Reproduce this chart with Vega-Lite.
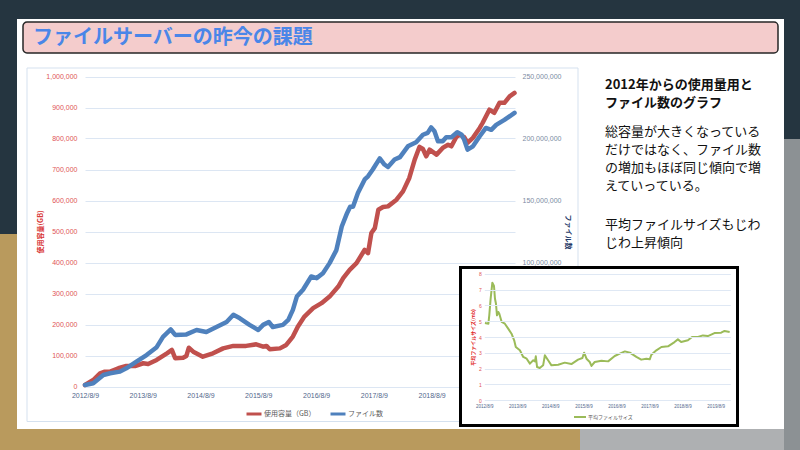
{
  "$schema": "https://vega.github.io/schema/vega-lite/v6.json",
  "width": 767,
  "height": 411,
  "autosize": {"type": "none"},
  "padding": {"left": 17, "top": 19, "right": 16, "bottom": 20},
  "background": "#253540",
  "config": {"view": {"fill": "#ffffff", "stroke": null}, "font": "Noto Sans CJK JP"},
  "datasets": {
    "usage": [
      {"date": "2012-08-09", "gb": 4800}, {"date": "2012-09-30", "gb": 21000}, {"date": "2012-11-12", "gb": 42600},
      {"date": "2012-12-12", "gb": 47800}, {"date": "2013-01-15", "gb": 47800}, {"date": "2013-03-08", "gb": 58800},
      {"date": "2013-04-27", "gb": 66000}, {"date": "2013-06-21", "gb": 66000}, {"date": "2013-08-12", "gb": 75000},
      {"date": "2013-09-12", "gb": 72700}, {"date": "2013-11-05", "gb": 85600}, {"date": "2014-01-09", "gb": 107000},
      {"date": "2014-02-09", "gb": 118000}, {"date": "2014-03-02", "gb": 91000}, {"date": "2014-04-21", "gb": 93000},
      {"date": "2014-05-12", "gb": 98500}, {"date": "2014-05-27", "gb": 125000}, {"date": "2014-06-24", "gb": 112400},
      {"date": "2014-08-24", "gb": 96000}, {"date": "2014-10-27", "gb": 107000}, {"date": "2014-12-30", "gb": 123000},
      {"date": "2015-03-05", "gb": 131000}, {"date": "2015-05-24", "gb": 131000}, {"date": "2015-07-27", "gb": 136000},
      {"date": "2015-09-09", "gb": 128600}, {"date": "2015-09-30", "gb": 131000}, {"date": "2015-10-21", "gb": 120000},
      {"date": "2015-12-24", "gb": 123000}, {"date": "2016-02-02", "gb": 134000}, {"date": "2016-03-15", "gb": 161000},
      {"date": "2016-04-15", "gb": 193000}, {"date": "2016-05-27", "gb": 225500}, {"date": "2016-07-21", "gb": 252600},
      {"date": "2016-09-12", "gb": 268800}, {"date": "2016-11-02", "gb": 290000}, {"date": "2016-12-27", "gb": 322500},
      {"date": "2017-01-27", "gb": 349600}, {"date": "2017-03-09", "gb": 376400}, {"date": "2017-04-21", "gb": 398000},
      {"date": "2017-06-12", "gb": 441000}, {"date": "2017-07-03", "gb": 430000}, {"date": "2017-07-24", "gb": 495000},
      {"date": "2017-08-15", "gb": 511000}, {"date": "2017-09-06", "gb": 570000}, {"date": "2017-10-06", "gb": 579000},
      {"date": "2017-11-06", "gb": 581000}, {"date": "2017-12-30", "gb": 602600}, {"date": "2018-02-09", "gb": 629400},
      {"date": "2018-03-21", "gb": 672700}, {"date": "2018-04-24", "gb": 731800}, {"date": "2018-05-24", "gb": 772800},
      {"date": "2018-06-15", "gb": 766000}, {"date": "2018-07-06", "gb": 742500}, {"date": "2018-07-27", "gb": 764000},
      {"date": "2018-09-09", "gb": 748000}, {"date": "2018-10-18", "gb": 769600}, {"date": "2018-11-21", "gb": 780000},
      {"date": "2018-12-12", "gb": 774800}, {"date": "2019-01-12", "gb": 805000}, {"date": "2019-02-03", "gb": 812600},
      {"date": "2019-03-03", "gb": 804000}, {"date": "2019-03-24", "gb": 785800}, {"date": "2019-04-27", "gb": 802000},
      {"date": "2019-06-09", "gb": 834000}, {"date": "2019-06-27", "gb": 850000}, {"date": "2019-08-09", "gb": 893000},
      {"date": "2019-09-09", "gb": 883000}, {"date": "2019-10-12", "gb": 915000}, {"date": "2019-11-12", "gb": 915000},
      {"date": "2019-12-15", "gb": 936000}, {"date": "2020-01-15", "gb": 947000}
    ],
    "files": [
      {"date": "2012-08-09", "n": 1200000}, {"date": "2012-09-30", "n": 2600000}, {"date": "2012-12-03", "n": 9300000},
      {"date": "2013-01-15", "n": 10700000}, {"date": "2013-03-18", "n": 12000000}, {"date": "2013-04-27", "n": 14700000},
      {"date": "2013-06-30", "n": 20000000}, {"date": "2013-09-02", "n": 25400000}, {"date": "2013-11-05", "n": 31700000},
      {"date": "2013-12-15", "n": 40000000}, {"date": "2014-02-02", "n": 46000000}, {"date": "2014-03-02", "n": 41600000},
      {"date": "2014-05-12", "n": 42000000}, {"date": "2014-07-15", "n": 45600000}, {"date": "2014-09-15", "n": 44000000},
      {"date": "2014-11-18", "n": 48000000}, {"date": "2015-01-21", "n": 52000000}, {"date": "2015-03-05", "n": 57800000},
      {"date": "2015-04-15", "n": 55000000}, {"date": "2015-06-15", "n": 49700000}, {"date": "2015-08-09", "n": 45600000},
      {"date": "2015-09-09", "n": 49700000}, {"date": "2015-10-15", "n": 52000000}, {"date": "2015-11-09", "n": 48000000},
      {"date": "2016-01-12", "n": 49700000}, {"date": "2016-02-15", "n": 53700000}, {"date": "2016-03-15", "n": 61800000},
      {"date": "2016-04-09", "n": 72500000}, {"date": "2016-05-18", "n": 78000000}, {"date": "2016-07-09", "n": 88700000},
      {"date": "2016-08-12", "n": 87400000}, {"date": "2016-09-21", "n": 91400000}, {"date": "2016-11-02", "n": 99500000},
      {"date": "2016-12-15", "n": 110000000}, {"date": "2017-01-18", "n": 129000000}, {"date": "2017-02-21", "n": 140000000},
      {"date": "2017-03-12", "n": 145000000}, {"date": "2017-03-30", "n": 145000000}, {"date": "2017-04-30", "n": 156000000},
      {"date": "2017-06-12", "n": 167000000}, {"date": "2017-07-03", "n": 169500000}, {"date": "2017-08-02", "n": 175000000},
      {"date": "2017-09-15", "n": 184000000}, {"date": "2017-10-15", "n": 179000000}, {"date": "2017-11-06", "n": 177000000},
      {"date": "2017-12-18", "n": 183000000}, {"date": "2018-01-21", "n": 185000000}, {"date": "2018-03-12", "n": 193700000},
      {"date": "2018-05-03", "n": 197000000}, {"date": "2018-06-15", "n": 203000000}, {"date": "2018-07-15", "n": 204500000},
      {"date": "2018-08-06", "n": 209000000}, {"date": "2018-08-27", "n": 205800000}, {"date": "2018-09-18", "n": 197800000},
      {"date": "2018-10-18", "n": 197800000}, {"date": "2018-11-09", "n": 201000000}, {"date": "2018-12-12", "n": 201000000},
      {"date": "2019-01-18", "n": 205000000}, {"date": "2019-02-15", "n": 203000000}, {"date": "2019-03-03", "n": 199000000},
      {"date": "2019-03-24", "n": 191000000}, {"date": "2019-04-27", "n": 193700000}, {"date": "2019-06-09", "n": 201800000},
      {"date": "2019-07-18", "n": 208500000}, {"date": "2019-08-21", "n": 207000000}, {"date": "2019-09-21", "n": 211000000},
      {"date": "2019-11-12", "n": 215000000}, {"date": "2020-01-15", "n": 220700000}
    ],
    "avg": [
      {"date": "2012-08-16", "mb": 4.88}, {"date": "2012-09-23", "mb": 4.84}, {"date": "2012-10-03", "mb": 5.37},
      {"date": "2012-10-18", "mb": 6.42}, {"date": "2012-11-06", "mb": 7.43}, {"date": "2012-11-24", "mb": 7.22},
      {"date": "2012-12-05", "mb": 6.42}, {"date": "2012-12-16", "mb": 6.10}, {"date": "2012-12-27", "mb": 5.37},
      {"date": "2013-01-11", "mb": 5.58}, {"date": "2013-01-22", "mb": 5.47}, {"date": "2013-02-17", "mb": 4.95},
      {"date": "2013-03-24", "mb": 4.84}, {"date": "2013-04-30", "mb": 4.53}, {"date": "2013-06-06", "mb": 4.21},
      {"date": "2013-07-05", "mb": 3.79}, {"date": "2013-07-23", "mb": 3.37}, {"date": "2013-09-06", "mb": 3.16},
      {"date": "2013-10-13", "mb": 2.74}, {"date": "2013-11-20", "mb": 2.63}, {"date": "2013-12-26", "mb": 2.32},
      {"date": "2014-02-01", "mb": 2.53}, {"date": "2014-02-20", "mb": 2.46}, {"date": "2014-03-01", "mb": 2.78},
      {"date": "2014-03-15", "mb": 2.10}, {"date": "2014-04-14", "mb": 2.04}, {"date": "2014-05-21", "mb": 2.21},
      {"date": "2014-06-09", "mb": 2.84}, {"date": "2014-07-15", "mb": 2.53}, {"date": "2014-08-21", "mb": 2.21},
      {"date": "2014-11-03", "mb": 2.25}, {"date": "2015-01-15", "mb": 2.38}, {"date": "2015-03-29", "mb": 2.29},
      {"date": "2015-06-11", "mb": 2.57}, {"date": "2015-07-29", "mb": 2.67}, {"date": "2015-08-17", "mb": 3.01},
      {"date": "2015-09-12", "mb": 2.63}, {"date": "2015-10-18", "mb": 2.42}, {"date": "2015-11-06", "mb": 2.17},
      {"date": "2015-12-12", "mb": 2.42}, {"date": "2016-02-25", "mb": 2.50}, {"date": "2016-05-08", "mb": 2.46},
      {"date": "2016-07-20", "mb": 2.80}, {"date": "2016-09-14", "mb": 2.95}, {"date": "2016-11-09", "mb": 3.09},
      {"date": "2017-01-03", "mb": 3.01}, {"date": "2017-03-16", "mb": 2.74}, {"date": "2017-05-09", "mb": 2.57},
      {"date": "2017-07-04", "mb": 2.63}, {"date": "2017-08-11", "mb": 2.59}, {"date": "2017-08-29", "mb": 2.88},
      {"date": "2017-10-23", "mb": 3.16}, {"date": "2017-12-18", "mb": 3.37}, {"date": "2018-03-01", "mb": 3.41},
      {"date": "2018-05-12", "mb": 3.68}, {"date": "2018-06-18", "mb": 3.85}, {"date": "2018-07-24", "mb": 3.68},
      {"date": "2018-10-07", "mb": 3.79}, {"date": "2018-11-21", "mb": 4.00}, {"date": "2019-01-27", "mb": 4.00},
      {"date": "2019-03-21", "mb": 4.10}, {"date": "2019-05-15", "mb": 4.06}, {"date": "2019-07-27", "mb": 4.25},
      {"date": "2019-10-09", "mb": 4.27}, {"date": "2019-11-15", "mb": 4.38}, {"date": "2020-01-11", "mb": 4.32}
    ]
  },
  "layer": [
    {
      "data": {"values": [{"part": "bottom-left"}]},
      "mark": {"type": "rect", "fill": "#b99a5d"},
      "encoding": {
        "x": {"field": "part", "type": "nominal", "axis": null, "scale": {"type": "band", "range": [-17, 563], "paddingInner": 0, "paddingOuter": 0}},
        "y": {"field": "part", "type": "nominal", "axis": null, "scale": {"type": "band", "range": [410, 431], "paddingInner": 0, "paddingOuter": 0}}
      }
    },
    {
      "data": {"values": [{"part": "bottom-right"}]},
      "mark": {"type": "rect", "fill": "#aeb0b2"},
      "encoding": {
        "x": {"field": "part", "type": "nominal", "axis": null, "scale": {"type": "band", "range": [563, 783], "paddingInner": 0, "paddingOuter": 0}},
        "y": {"field": "part", "type": "nominal", "axis": null, "scale": {"type": "band", "range": [410, 431], "paddingInner": 0, "paddingOuter": 0}}
      }
    },
    {
      "data": {"values": [{"part": "left"}]},
      "mark": {"type": "rect", "fill": "#b99a5d"},
      "encoding": {
        "x": {"field": "part", "type": "nominal", "axis": null, "scale": {"type": "band", "range": [-17, 0], "paddingInner": 0, "paddingOuter": 0}},
        "y": {"field": "part", "type": "nominal", "axis": null, "scale": {"type": "band", "range": [215, 431], "paddingInner": 0, "paddingOuter": 0}}
      }
    },
    {
      "data": {"values": [{"part": "right"}]},
      "mark": {"type": "rect", "fill": "#8c9194"},
      "encoding": {
        "x": {"field": "part", "type": "nominal", "axis": null, "scale": {"type": "band", "range": [767, 783], "paddingInner": 0, "paddingOuter": 0}},
        "y": {"field": "part", "type": "nominal", "axis": null, "scale": {"type": "band", "range": [120, 431], "paddingInner": 0, "paddingOuter": 0}}
      }
    },
    {
      "data": {"values": [{"part": "title"}]},
      "mark": {"type": "rect", "fill": "#f4cccc", "stroke": "#262626", "strokeWidth": 1.5, "cornerRadius": 4},
      "encoding": {
        "x": {"field": "part", "type": "nominal", "axis": null, "scale": {"type": "band", "range": [6, 761], "paddingInner": 0, "paddingOuter": 0}},
        "y": {"field": "part", "type": "nominal", "axis": null, "scale": {"type": "band", "range": [3, 34], "paddingInner": 0, "paddingOuter": 0}}
      }
    },
    {
      "data": {"values": [{"part": "title", "label": "ファイルサーバーの昨今の課題"}]},
      "mark": {"type": "text", "align": "left", "baseline": "middle", "fontSize": 20, "fontWeight": "bold", "fill": "#4a86e8", "font": "Noto Sans CJK JP"},
      "encoding": {
        "x": {"field": "part", "type": "nominal", "axis": null, "scale": {"type": "point", "range": [16, 16]}},
        "y": {"field": "part", "type": "nominal", "axis": null, "scale": {"type": "point", "range": [19, 19]}},
        "text": {"field": "label", "type": "nominal"}
      }
    },
    {
      "data": {"values": [{"part": "chartarea"}]},
      "mark": {"type": "rect", "fill": "transparent", "stroke": "#d5e1ef", "strokeWidth": 1},
      "encoding": {
        "x": {"field": "part", "type": "nominal", "axis": null, "scale": {"type": "band", "range": [10, 561], "paddingInner": 0, "paddingOuter": 0}},
        "y": {"field": "part", "type": "nominal", "axis": null, "scale": {"type": "band", "range": [49, 402.5], "paddingInner": 0, "paddingOuter": 0}}
      }
    },
    {
      "encoding": {
        "x": {
          "field": "date", "type": "temporal",
          "scale": {"type": "utc", "domain": [{"year": 2012, "month": 8, "date": 9, "utc": true}, {"year": 2020, "month": 1, "date": 18, "utc": true}], "range": [68, 498], "nice": false},
          "axis": {
            "orient": "bottom", "offset": -43.5, "title": null, "format": "%Y/%-m/%-d", "grid": false, "domain": false, "ticks": false,
            "labelPadding": 5, "labelFont": "Liberation Sans", "labelFontSize": 7, "labelColor": "#52678c", "labelFlush": false, "labelOverlap": false, "zindex": 0,
            "values": [
              {"year": 2012, "month": 8, "date": 9, "utc": true}, {"year": 2013, "month": 8, "date": 9, "utc": true},
              {"year": 2014, "month": 8, "date": 9, "utc": true}, {"year": 2015, "month": 8, "date": 9, "utc": true},
              {"year": 2016, "month": 8, "date": 9, "utc": true}, {"year": 2017, "month": 8, "date": 9, "utc": true},
              {"year": 2018, "month": 8, "date": 9, "utc": true}, {"year": 2019, "month": 8, "date": 9, "utc": true}
            ]
          }
        }
      },
      "layer": [
        {
          "data": {"name": "usage"},
          "mark": {"type": "line", "strokeWidth": 4.5, "strokeJoin": "round", "strokeCap": "round"},
          "encoding": {
            "y": {
              "field": "gb", "type": "quantitative",
              "scale": {"domain": [0, 1000000], "range": [367.5, 57.5], "nice": false},
              "axis": {
                "orient": "left", "offset": -68, "values": [0, 100000, 200000, 300000, 400000, 500000, 600000, 700000, 800000, 900000, 1000000],
                "format": ",d", "grid": true, "gridColor": "#dce6f3", "gridWidth": 1, "domain": false, "ticks": false,
                "labelPadding": 8, "labelFont": "Liberation Sans", "labelFontSize": 7, "labelColor": "#e05555",
                "title": "使用容量(GB)", "titleFont": "Noto Sans CJK JP", "titleFontSize": 7, "titleFontWeight": "bold", "titleColor": "#d93a3a", "titlePadding": 2, "zindex": 0
              }
            },
            "color": {
              "datum": "使用容量（GB）", "type": "nominal",
              "scale": {"domain": ["使用容量（GB）", "ファイル数"], "range": ["#c0504d", "#4f81bd"]},
              "legend": {
                "orient": "none", "legendX": 228, "legendY": 386, "direction": "horizontal", "title": null,
                "symbolType": "stroke", "symbolStrokeWidth": 3, "symbolSize": 225, "labelFont": "Noto Sans CJK JP",
                "labelFontSize": 7, "labelColor": "#595959", "labelOffset": 1, "columnPadding": 8
              }
            }
          }
        },
        {
          "data": {"name": "files"},
          "mark": {"type": "line", "strokeWidth": 4.5, "strokeJoin": "round", "strokeCap": "round"},
          "encoding": {
            "y": {
              "field": "n", "type": "quantitative",
              "scale": {"domain": [0, 250000000], "range": [367.5, 57.5], "nice": false},
              "axis": {
                "orient": "right", "offset": -269, "values": [0, 50000000, 100000000, 150000000, 200000000, 250000000],
                "format": ",d", "grid": false, "domain": false, "ticks": false,
                "labelPadding": 7, "labelFont": "Liberation Sans", "labelFontSize": 7, "labelColor": "#7b8ba3",
                "title": "ファイル数", "titleAngle": 90, "titleFont": "Noto Sans CJK JP", "titleFontSize": 7, "titleFontWeight": "bold", "titleColor": "#1f3a68", "titlePadding": 4, "zindex": 0
              }
            },
            "color": {"datum": "ファイル数", "type": "nominal"}
          }
        }
      ],
      "resolve": {"scale": {"y": "independent"}}
    },
    {
      "data": {"values": [{"para": "h", "lines": ["2012年からの使用量用と", "ファイル数のグラフ"]}]},
      "mark": {"type": "text", "align": "left", "baseline": "top", "fontSize": 13, "fontWeight": "bold", "lineHeight": 18, "fill": "#111111", "font": "Noto Sans CJK JP"},
      "encoding": {
        "x": {"field": "para", "type": "nominal", "axis": null, "scale": {"type": "point", "domain": ["h", "b1", "sp", "b2"], "range": [588, 588]}},
        "y": {"field": "para", "type": "nominal", "axis": null, "scale": {"type": "point", "domain": ["h", "b1", "sp", "b2"], "range": [60, 200], "padding": 0}},
        "text": {"field": "lines", "type": "nominal"}
      }
    },
    {
      "data": {"values": [
        {"para": "b1", "lines": ["総容量が大きくなっている", "だけではなく、ファイル数", "の増加もほぼ同じ傾向で増", "えていっている。"]},
        {"para": "b2", "lines": ["平均ファイルサイズもじわ", "じわ上昇傾向"]}
      ]},
      "mark": {"type": "text", "align": "left", "baseline": "top", "fontSize": 13, "lineHeight": 18, "fill": "#111111", "font": "Noto Sans CJK JP"},
      "encoding": {
        "x": {"field": "para", "type": "nominal", "axis": null, "scale": {"type": "point", "domain": ["h", "b1", "sp", "b2"], "range": [588, 588]}},
        "y": {"field": "para", "type": "nominal", "axis": null, "scale": {"type": "point", "domain": ["h", "b1", "sp", "b2"], "range": [60, 200], "padding": 0}},
        "text": {"field": "lines", "type": "nominal"}
      }
    },
    {
      "data": {"values": [{"part": "inset"}]},
      "mark": {"type": "rect", "fill": "#ffffff", "stroke": "#000000", "strokeWidth": 3},
      "encoding": {
        "x": {"field": "part", "type": "nominal", "axis": null, "scale": {"type": "band", "range": [443.5, 720.5], "paddingInner": 0, "paddingOuter": 0}},
        "y": {"field": "part", "type": "nominal", "axis": null, "scale": {"type": "band", "range": [248.5, 406.5], "paddingInner": 0, "paddingOuter": 0}}
      }
    },
    {
      "data": {"name": "avg"},
      "mark": {"type": "line", "strokeWidth": 2, "strokeJoin": "round"},
      "encoding": {
        "x": {
          "field": "date", "type": "temporal",
          "scale": {"type": "utc", "domain": [{"year": 2012, "month": 8, "date": 9, "utc": true}, {"year": 2020, "month": 1, "date": 18, "utc": true}], "range": [467.3, 713.3], "nice": false},
          "axis": {
            "orient": "bottom", "offset": -29.7, "title": null, "format": "%Y/%-m/%-d", "grid": false, "domain": false, "ticks": false,
            "labelPadding": 3, "labelFont": "Liberation Sans", "labelFontSize": 4.5, "labelColor": "#52678c", "labelFlush": false, "labelOverlap": false, "zindex": 1,
            "values": [
              {"year": 2012, "month": 8, "date": 9, "utc": true}, {"year": 2013, "month": 8, "date": 9, "utc": true},
              {"year": 2014, "month": 8, "date": 9, "utc": true}, {"year": 2015, "month": 8, "date": 9, "utc": true},
              {"year": 2016, "month": 8, "date": 9, "utc": true}, {"year": 2017, "month": 8, "date": 9, "utc": true},
              {"year": 2018, "month": 8, "date": 9, "utc": true}, {"year": 2019, "month": 8, "date": 9, "utc": true}
            ]
          }
        },
        "y": {
          "field": "mb", "type": "quantitative",
          "scale": {"domain": [0, 8], "range": [381.3, 254.7], "nice": false},
          "axis": {
            "orient": "left", "offset": -467.3, "values": [0, 1, 2, 3, 4, 5, 6, 7, 8], "format": "d",
            "grid": true, "gridColor": "#dfe8f4", "gridWidth": 1, "domain": false, "ticks": false,
            "labelPadding": 3, "labelFont": "Liberation Sans", "labelFontSize": 5, "labelColor": "#e05555",
            "title": "平均ファイルサイズ(mb)", "titleFont": "Noto Sans CJK JP", "titleFontSize": 5, "titleFontWeight": "bold", "titleColor": "#e02424", "titlePadding": 3, "zindex": 1
          }
        },
        "color": {
          "datum": "平均ファイルサイズ", "type": "nominal",
          "scale": {"domain": ["平均ファイルサイズ"], "range": ["#9bbb59"]},
          "legend": {
            "orient": "none", "legendX": 556, "legendY": 391, "direction": "horizontal", "title": null,
            "symbolType": "stroke", "symbolStrokeWidth": 2, "symbolSize": 144, "labelFont": "Noto Sans CJK JP",
            "labelFontSize": 5, "labelColor": "#595959", "labelOffset": 1
          }
        }
      }
    }
  ],
  "resolve": {"scale": {"x": "independent", "y": "independent", "color": "independent"}}
}
